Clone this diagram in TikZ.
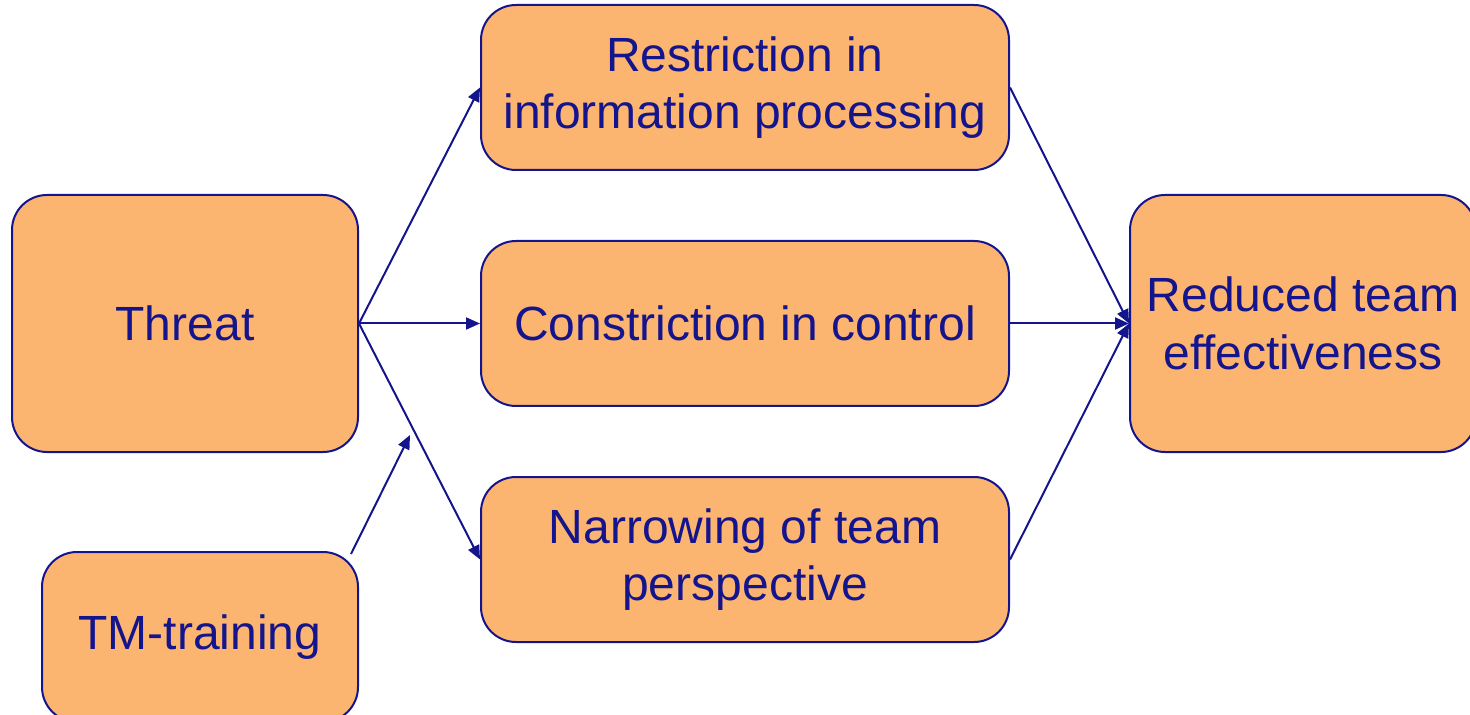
\documentclass[tikz,border=0pt]{standalone}
\usepackage{fontspec}
\setmainfont{Liberation Sans}
\usetikzlibrary{positioning,arrows.meta}

\definecolor{boxfill}{RGB}{252,181,113}
\definecolor{navy}{RGB}{20,20,140}

\tikzset{
  box/.style={draw=navy, line width=1pt, fill=boxfill, rounded corners=17.5pt,
    align=center, inner sep=0pt, text=navy,
    font=\fontsize{24}{28.7}\selectfont},
  bigbox/.style={box, minimum width=173pt, minimum height=128.5pt},
  midbox/.style={box, minimum width=264pt, minimum height=82.5pt},
  link/.style={draw=navy, line width=1pt, -{Triangle[length=7pt,width=6pt]}}
}

\begin{document}
\begin{tikzpicture}[auto,node distance=34.5pt]

	\useasboundingbox (0,0) rectangle (735pt,-357.5pt);

	\node[bigbox] (threat) at (92.5pt,-161.75pt) {Threat};
	\node[midbox] (constriction) [right=60.5pt of threat] {Constriction in control};
	\node[midbox] (restriction) [above=of constriction] {Restriction in\\information processing};
	\node[midbox] (narrowing) [below=of constriction] {Narrowing of team\\perspective};
	\node[bigbox] (reduced) [right=59.5pt of constriction] {Reduced team\\effectiveness};
	\node[box, minimum width=158pt, minimum height=85pt, anchor=north east]
		(tmtraining) at ([yshift=-49pt]threat.south east) {TM-training};

	\coordinate (moderation) at (205pt,-217.5pt);

	\draw[link] (threat.east) -- (restriction.west);
	\draw[link] (threat.east) -- (constriction.west);
	\draw[link] (threat.east) -- (narrowing.west);
	\draw[link] (restriction.east) -- (reduced.west);
	\draw[link] (constriction.east) -- (reduced.west);
	\draw[link] (narrowing.east) -- (reduced.west);
	\draw[link] ([xshift=-4pt,yshift=-1.5pt]tmtraining.north east) -- (moderation);

\end{tikzpicture}
\end{document}
